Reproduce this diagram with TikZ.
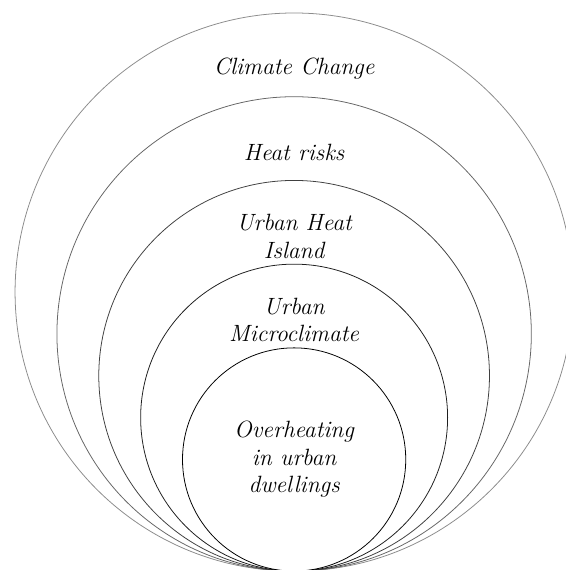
\documentclass[tikz,border=0pt]{standalone}
\begin{document}
\begin{tikzpicture}[
  every node/.style={font=\large\itshape,align=center},
  ring/.style={line width=0.4pt}]
\useasboundingbox (-5.27,0.02) rectangle (4.855,10.233);
% nested rings, all touching at the bottom point
\draw[ring,black!45] (0,5) circle (5);
\draw[ring,black!60] (0,4.25) circle (4.25);
\draw[ring,black!75] (0,3.5) circle (3.5);
\draw[ring,black!88] (0,2.75) circle (2.75);
\draw[ring,black] (0,2) circle (2);
\node (cc) at (0,9) {Climate Change};
\node (hr) at (0,7.5) {Heat risks};
\node (uhi) at (0,6) {Urban Heat\\Island};
\node (umc) at (0,4.5) {Urban\\Microclimate};
\node (ovh) at (0,2) {Overheating\\in urban\\dwellings};
\end{tikzpicture}
\end{document}
